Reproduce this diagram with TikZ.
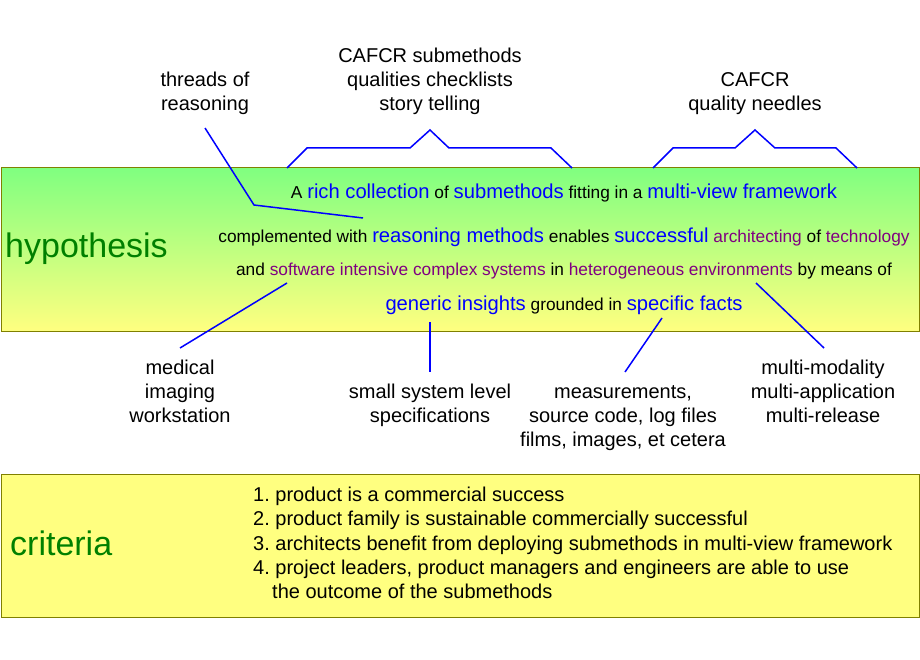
\documentclass[tikz,border=0pt]{standalone}
\usepackage{fontspec}
\setmainfont{Liberation Sans}
\frenchspacing
\definecolor{hblue}{RGB}{0,0,255}
\definecolor{hpurple}{RGB}{128,0,128}
\definecolor{hgreen}{RGB}{0,128,0}
\definecolor{hborder}{RGB}{128,128,0}
\definecolor{hgreenfill}{RGB}{128,255,128}
\definecolor{hyellow}{RGB}{255,255,128}
\newcommand\smw[1]{{\fontsize{17.3}{20}\selectfont #1}}
\newcommand\bgw[1]{{\fontsize{20.2}{24}\selectfont\color{hblue}#1}}
\newcommand\ppw[1]{{\fontsize{17.3}{20}\selectfont\color{hpurple}#1}}
\begin{document}
\begin{tikzpicture}[x=1pt,y=-1pt,
  lbl/.style={align=center,font=\fontsize{20}{24}\selectfont,inner sep=0pt,anchor=base},
  hline/.style={inner sep=0pt,anchor=base},
  crit/.style={inner sep=0pt,anchor=base west,font=\fontsize{20}{24}\selectfont},
  big/.style={inner sep=0pt,text=hgreen,font=\fontsize{34}{40}\selectfont,anchor=base west},
  conn/.style={draw=hblue,line width=1.5pt},
  box/.style={draw=hborder,line width=1pt,inner sep=0pt}]
\useasboundingbox (0,0) rectangle (920,660);

% boxes
\node[box,top color=hgreenfill,bottom color=hyellow,minimum width=918pt,minimum height=163pt] (hyp) at (460,249.5) {};
\node[box,fill=hyellow,minimum width=918pt,minimum height=143pt] (critbox) at (460,545.5) {};

% top labels (base = last line)
\node[lbl] (threads) at (205,111) {threads of\\reasoning};
\node[lbl] (cafcr) at (430,111) {CAFCR submethods\\qualities checklists\\story telling};
\node[lbl] (needles) at (755,111) {CAFCR\\quality needles};

% hypothesis
\node[big] (hyptitle) at (5,258) {hypothesis};
\node[hline] (h1) at (564,199) {\smw{A }\bgw{rich collection}\smw{ of }\bgw{submethods}\smw{ fitting in a }\bgw{multi-view framework}};
\node[hline] (h2) at (564,243) {\smw{complemented with }\bgw{reasoning methods}\smw{ enables }\bgw{successful}\smw{ }\ppw{architecting}\smw{ of }\ppw{technology}};
\node[hline] (h3) at (564,276) {\smw{and }\ppw{software intensive complex systems}\smw{ in }\ppw{heterogeneous environments}\smw{ by means of}};
\node[hline] (h4) at (564,310) {\bgw{generic insights}\smw{ grounded in }\bgw{specific facts}};

% bottom labels (base = last line)
\node[lbl] (medical) at (180,422) {medical\\imaging\\workstation};
\node[lbl] (small) at (430,422) {small system level\\specifications};
\node[lbl] (meas) at (623,446) {measurements,\\source code, log files\\films, images, et cetera};
\node[lbl] (multi) at (823,422) {multi-modality\\multi-application\\multi-release};

% criteria
\node[big] (crittitle) at (10,555) {criteria};
\node[crit] (c1) at (253,501) {1. product is a commercial success};
\node[crit] (c2) at (253,525) {2. product family is sustainable commercially successful};
\node[crit] (c3) at (253,550) {3. architects benefit from deploying submethods in multi-view framework};
\node[crit] (c4) at (253,574) {4. project leaders, product managers and engineers are able to use};
\node[crit] (c5) at (272,598) {the outcome of the submethods};

% connector coordinates
\coordinate (thA) at (205,128);
\coordinate (thB) at (254,205);
\coordinate (thC) at (363,218);
\coordinate (medA) at (287,283);
\coordinate (medB) at (180,348);
\coordinate (smA) at (430,322);
\coordinate (smB) at (430,372);
\coordinate (meA) at (662,318);
\coordinate (meB) at (625,372);
\coordinate (muA) at (756,283);
\coordinate (muB) at (824,348);

\draw[conn] (thA) -- (thB) -- (thC);
\draw[conn] (medA) -- (medB);
\draw[conn] (smA) -- (smB);
\draw[conn] (meA) -- (meB);
\draw[conn] (muA) -- (muB);

% brackets
\coordinate (b1s) at (287,168);
\coordinate (b1p) at (430,130);
\coordinate (b1e) at (572,168);
\draw[conn,line join=miter] (b1s) -- (307,148) -- (410,148) -- (b1p) -- (449,148) -- (551,148) -- (b1e);
\coordinate (b2s) at (653,168);
\coordinate (b2p) at (755,130);
\coordinate (b2e) at (857,168);
\draw[conn,line join=miter] (b2s) -- (673,148) -- (735,148) -- (b2p) -- (775,148) -- (836,148) -- (b2e);
\end{tikzpicture}
\end{document}
